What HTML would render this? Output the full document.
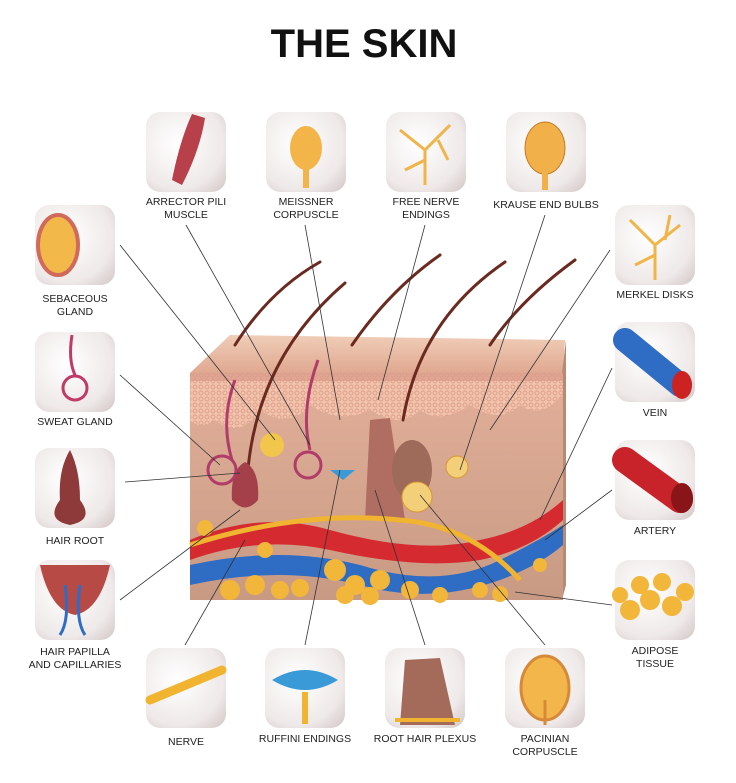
<!DOCTYPE html>
<html><head><meta charset="utf-8"><style>
body{margin:0;background:#fff;}
svg{display:block}
text{font-family:"Liberation Sans",sans-serif;fill:#222}
.l{font-size:10.5px;text-anchor:middle}
</style></head><body>
<svg width="736" height="783" viewBox="0 0 736 783">
<defs>
<radialGradient id="tile" cx="0.4" cy="0.4" r="0.8"><stop offset="0" stop-color="#ffffff"/><stop offset="0.7" stop-color="#efe9e9"/><stop offset="1" stop-color="#d6cbcb"/></radialGradient>
<linearGradient id="skin" x1="0" y1="0" x2="0" y2="1"><stop offset="0" stop-color="#e3b09a"/><stop offset="1" stop-color="#c89a83"/></linearGradient>
<linearGradient id="top" x1="0" y1="0" x2="0" y2="1"><stop offset="0" stop-color="#f0cdb8"/><stop offset="1" stop-color="#e0a890"/></linearGradient>
<pattern id="cells" width="6" height="6" patternUnits="userSpaceOnUse"><rect width="6" height="6" fill="#f1c3ad"/><circle cx="3" cy="3" r="2" fill="none" stroke="#d9917a" stroke-width="0.7"/></pattern>
</defs>
<text x="364" y="57" font-size="40" font-weight="bold" text-anchor="middle" style="fill:#111">THE SKIN</text>

<path d="M190 373 L230 335 L565 340 L563 373 Z" fill="url(#top)"/>
<path d="M562 373 L566 340 L566 585 L562 600 Z" fill="#b88a75"/>
<rect x="190" y="373" width="373" height="227" fill="url(#skin)"/>
<path d="M190 373 H563 V395 Q540 420 520 405 Q500 425 470 405 Q440 425 420 410 Q400 430 370 410 Q340 425 310 405 Q290 430 260 410 Q240 440 215 420 Q200 430 190 420 Z" fill="url(#cells)"/>
<rect x="190" y="373" width="373" height="8" fill="#d89a88" opacity="0.7"/>
<g stroke="#6b2a20" stroke-width="3" fill="none" stroke-linecap="round">
<path d="M235 345 Q270 290 320 262"/><path d="M352 345 Q390 290 440 255"/><path d="M490 345 Q520 300 575 260"/>
<path d="M247 480 Q255 360 345 283"/><path d="M403 420 Q420 320 505 262"/>
</g>
<path d="M370 420 L390 418 L405 520 L365 520 Z" fill="#b06e62"/>
<ellipse cx="412" cy="470" rx="20" ry="30" fill="#9e6a5a"/>
<path d="M232 500 Q230 470 245 462 Q260 470 258 500 Q245 515 232 500Z" fill="#a3404a"/>
<g fill="none" stroke="#b03c6a" stroke-width="3"><circle cx="222" cy="470" r="14"/><circle cx="308" cy="465" r="13"/><path d="M232 460 Q220 420 235 380"/><path d="M310 450 Q300 410 318 360"/></g>
<circle cx="272" cy="445" r="12" fill="#f2c64a"/>
<path d="M190 540 Q260 510 330 530 Q420 555 480 540 Q530 530 563 500 V520 Q530 550 480 560 Q420 570 330 550 Q260 535 190 560Z" fill="#d42a30"/>
<path d="M190 565 Q280 545 360 565 Q440 590 500 560 Q540 540 563 525 V545 Q540 565 500 580 Q430 605 360 585 Q280 565 190 585Z" fill="#2f6cc4"/>
<path d="M190 545 Q300 510 400 520 Q470 525 520 580" stroke="#f0b430" stroke-width="5" fill="none"/>
<g fill="#f2b63a"><circle cx="230" cy="590" r="10"/><circle cx="255" cy="585" r="10"/><circle cx="280" cy="590" r="9"/><circle cx="300" cy="588" r="9"/><circle cx="335" cy="570" r="11"/><circle cx="355" cy="585" r="10"/><circle cx="380" cy="580" r="10"/><circle cx="345" cy="595" r="9"/><circle cx="370" cy="596" r="9"/><circle cx="410" cy="590" r="9"/><circle cx="440" cy="595" r="8"/><circle cx="480" cy="590" r="8"/><circle cx="500" cy="594" r="8"/><circle cx="540" cy="565" r="7"/><circle cx="205" cy="528" r="8"/><circle cx="265" cy="550" r="8"/></g>
<circle cx="417" cy="497" r="15" fill="#f4cf7a" stroke="#d89a30"/>
<circle cx="457" cy="467" r="11" fill="#f4cf7a" stroke="#d89a30"/>
<path d="M330 470 h25 l-12 10z" fill="#3a9ad8"/>
<g stroke="#333" stroke-width="0.8" fill="none">
<line x1="120" y1="245" x2="275" y2="440"/><line x1="186" y1="225" x2="310" y2="445"/>
<line x1="305" y1="225" x2="340" y2="420"/><line x1="425" y1="225" x2="378" y2="400"/>
<line x1="545" y1="215" x2="460" y2="470"/><line x1="610" y1="250" x2="490" y2="430"/>
<line x1="120" y1="375" x2="220" y2="465"/><line x1="125" y1="482" x2="240" y2="473"/>
<line x1="120" y1="600" x2="240" y2="510"/><line x1="612" y1="368" x2="540" y2="520"/>
<line x1="612" y1="490" x2="545" y2="540"/><line x1="612" y1="605" x2="515" y2="592"/>
<line x1="185" y1="645" x2="245" y2="540"/><line x1="305" y1="645" x2="340" y2="470"/>
<line x1="425" y1="645" x2="375" y2="490"/><line x1="545" y1="645" x2="420" y2="495"/>
</g>
<g fill="url(#tile)">
<rect x="146" y="112" width="80" height="80" rx="14"/><rect x="266" y="112" width="80" height="80" rx="14"/>
<rect x="386" y="112" width="80" height="80" rx="14"/><rect x="506" y="112" width="80" height="80" rx="14"/>
<rect x="35" y="205" width="80" height="80" rx="14"/><rect x="35" y="332" width="80" height="80" rx="14"/>
<rect x="35" y="448" width="80" height="80" rx="14"/><rect x="35" y="560" width="80" height="80" rx="14"/>
<rect x="615" y="205" width="80" height="80" rx="14"/><rect x="615" y="322" width="80" height="80" rx="14"/>
<rect x="615" y="440" width="80" height="80" rx="14"/><rect x="615" y="560" width="80" height="80" rx="14"/>
<rect x="146" y="648" width="80" height="80" rx="14"/><rect x="265" y="648" width="80" height="80" rx="14"/>
<rect x="385" y="648" width="80" height="80" rx="14"/><rect x="505" y="648" width="80" height="80" rx="14"/>
</g>
<path d="M172 180 Q180 140 192 114 L205 118 Q200 150 182 185Z" fill="#b8404a"/>
<ellipse cx="306" cy="148" rx="16" ry="22" fill="#f3b54a"/><rect x="303" y="168" width="6" height="20" fill="#f3b54a"/>
<g stroke="#f0b448" stroke-width="3" fill="none"><path d="M425 185 V150 L400 130 M425 150 L450 125 M425 160 L405 170 M438 140 L448 160"/></g>
<ellipse cx="545" cy="148" rx="20" ry="26" fill="#f2b04a" stroke="#c57b20"/><rect x="542" y="172" width="6" height="18" fill="#f2b04a"/>
<ellipse cx="58" cy="245" rx="20" ry="30" fill="#f2b84a" stroke="#d16a5a" stroke-width="4"/>
<g fill="none" stroke="#c03a68" stroke-width="3"><path d="M72 335 Q68 360 75 375"/><circle cx="75" cy="388" r="12"/></g>
<path d="M60 500 Q58 470 70 450 Q80 470 80 500 Q95 520 70 525 Q45 520 60 500Z" fill="#8f3a3a"/>
<path d="M40 565 H110 Q100 610 75 615 Q50 610 40 565Z" fill="#b84a45"/><path d="M65 585 Q70 620 60 635 M80 585 Q75 620 85 635" stroke="#2f6cc4" stroke-width="3" fill="none"/>
<g stroke="#f0b448" stroke-width="3" fill="none"><path d="M655 280 V245 L630 220 M655 245 L680 225 M655 255 L635 265 M665 240 L670 215"/></g>
<path d="M625 340 L680 385" stroke="#2f6cc4" stroke-width="24" stroke-linecap="round"/><ellipse cx="682" cy="385" rx="10" ry="14" fill="#c22"/>
<path d="M625 460 L680 500" stroke="#c8222a" stroke-width="26" stroke-linecap="round"/><ellipse cx="682" cy="498" rx="11" ry="15" fill="#8a1518"/>
<g fill="#f2b63a"><circle cx="630" cy="610" r="10"/><circle cx="650" cy="600" r="10"/><circle cx="672" cy="606" r="10"/><circle cx="640" cy="585" r="9"/><circle cx="662" cy="582" r="9"/><circle cx="685" cy="592" r="9"/><circle cx="620" cy="595" r="8"/></g>
<path d="M150 700 L222 670" stroke="#f0b430" stroke-width="9" stroke-linecap="round"/>
<path d="M272 680 Q305 660 338 680 Q305 700 272 680Z" fill="#3a9ad8"/><rect x="302" y="692" width="6" height="32" fill="#f0b430"/>
<path d="M405 660 L440 658 L455 725 L400 725Z" fill="#a46a5a"/><path d="M395 720 H460" stroke="#f0b430" stroke-width="4"/>
<ellipse cx="545" cy="688" rx="24" ry="32" fill="#f2b64a" stroke="#d7893a" stroke-width="3"/><path d="M545 700 V725" stroke="#d7893a" stroke-width="3"/>
<g>
<text class="l" x="186" y="205">ARRECTOR PILI</text><text class="l" x="186" y="218">MUSCLE</text>
<text class="l" x="306" y="205">MEISSNER</text><text class="l" x="306" y="218">CORPUSCLE</text>
<text class="l" x="426" y="205">FREE NERVE</text><text class="l" x="426" y="218">ENDINGS</text>
<text class="l" x="546" y="208">KRAUSE END BULBS</text>
<text class="l" x="75" y="302">SEBACEOUS</text><text class="l" x="75" y="315">GLAND</text>
<text class="l" x="75" y="425">SWEAT GLAND</text>
<text class="l" x="75" y="544">HAIR ROOT</text>
<text class="l" x="75" y="655">HAIR PAPILLA</text><text class="l" x="75" y="668">AND CAPILLARIES</text>
<text class="l" x="655" y="298">MERKEL DISKS</text>
<text class="l" x="655" y="416">VEIN</text>
<text class="l" x="655" y="534">ARTERY</text>
<text class="l" x="655" y="654">ADIPOSE</text><text class="l" x="655" y="667">TISSUE</text>
<text class="l" x="186" y="745">NERVE</text>
<text class="l" x="305" y="742">RUFFINI ENDINGS</text>
<text class="l" x="425" y="742">ROOT HAIR PLEXUS</text>
<text class="l" x="545" y="742">PACINIAN</text><text class="l" x="545" y="755">CORPUSCLE</text>
</g>
</svg>
</body></html>
